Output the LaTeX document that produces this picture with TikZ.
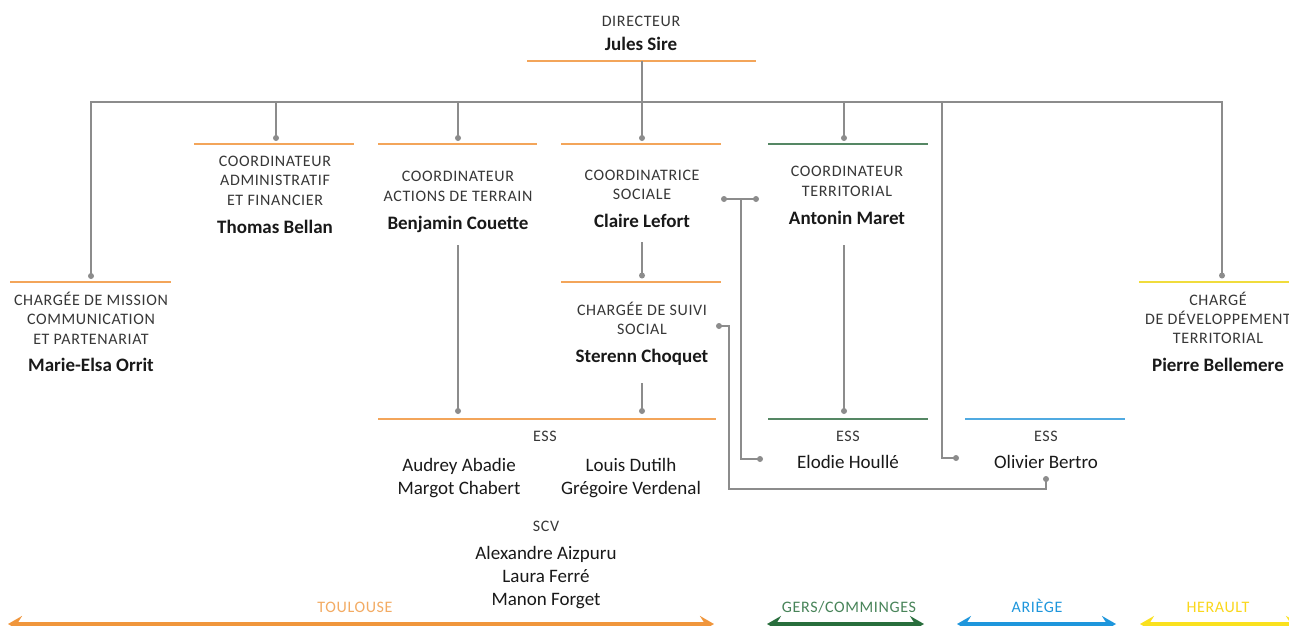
\documentclass[tikz,border=0pt]{standalone}
\usepackage{fontspec}
\setmainfont{Carlito}
\newfontfamily\capsfont[LetterSpace=4]{Carlito}
\usetikzlibrary{arrows.meta}
\definecolor{orangeL}{RGB}{243,165,90}
\definecolor{greenL}{RGB}{85,135,100}
\definecolor{blueL}{RGB}{80,170,225}
\definecolor{yellowL}{RGB}{240,220,60}
\definecolor{orangeA}{RGB}{240,150,60}
\definecolor{greenA}{RGB}{40,110,60}
\definecolor{blueA}{RGB}{30,150,220}
\definecolor{yellowA}{RGB}{250,225,30}
\definecolor{connG}{RGB}{140,140,140}
\definecolor{capG}{RGB}{55,55,55}
\definecolor{nameK}{RGB}{25,25,25}
\tikzset{
  captxt/.style={font=\capsfont\fontsize{16}{16}\selectfont, text=capG, anchor=base, inner sep=0pt},
  pname/.style={font=\bfseries\fontsize{19}{19}\selectfont, text=nameK, anchor=base, inner sep=0pt},
  rname/.style={font=\fontsize{19}{19}\selectfont, text=nameK, anchor=base, inner sep=0pt},
  headline/.style={line width=2pt},
  conn/.style={draw=connG, line width=1.5pt},
  dotfill/.style={fill=connG},
  regarrow/.style={line width=4pt, {Stealth[length=14pt,width=16pt,inset=5pt]}-{Stealth[length=14pt,width=16pt,inset=5pt]}},
  rlabel/.style={font=\capsfont\fontsize{16}{16}\selectfont, anchor=base, inner sep=0pt}
}
\begin{document}
\begin{tikzpicture}[x=1pt,y=-1pt]
\useasboundingbox (0,0) rectangle (1289,625);
\clip (0,0) rectangle (1289,625);
\fill[white] (0,0) rectangle (1289,625);

% ---------- Director
\node[captxt] (dirT) at (641,26.5) {DIRECTEUR};
\node[pname] (dirN) at (641,50) {Jules Sire};
\draw[headline, orangeL] (527,61) -- (756,61);
\coordinate (dirTop) at (642,61);

% ---------- Marie-Elsa
\draw[headline, orangeL] (10,282) -- (171,282);
\node[captxt] (meT1) at (91,305) {CHARGÉE DE MISSION};
\node[captxt] (meT2) at (91,324.5) {COMMUNICATION};
\node[captxt] (meT3) at (91,344) {ET PARTENARIAT};
\node[pname] (meN) at (91,371.5) {Marie-Elsa Orrit};
\coordinate (meDot) at (91,276);

% ---------- Thomas
\draw[headline, orangeL] (194,143.5) -- (354,143.5);
\node[captxt] (tbT1) at (275,166) {COORDINATEUR};
\node[captxt] (tbT2) at (275,185.5) {ADMINISTRATIF};
\node[captxt] (tbT3) at (275,205) {ET FINANCIER};
\node[pname] (tbN) at (275,233) {Thomas Bellan};
\coordinate (tbDot) at (276,138);

% ---------- Benjamin
\draw[headline, orangeL] (378,143.5) -- (537,143.5);
\node[captxt] (bcT1) at (458,181.5) {COORDINATEUR};
\node[captxt] (bcT2) at (458,201) {ACTIONS DE TERRAIN};
\node[pname] (bcN) at (458,229) {Benjamin Couette};
\coordinate (bcDot) at (458,138);
\coordinate (bcBot) at (458,245);

% ---------- Claire
\draw[headline, orangeL] (561,143.5) -- (721,143.5);
\node[captxt] (clT1) at (642,180) {COORDINATRICE};
\node[captxt] (clT2) at (642,199.5) {SOCIALE};
\node[pname] (clN) at (642,227) {Claire Lefort};
\coordinate (clDot) at (642,138);
\coordinate (clBot) at (642,242);
\coordinate (clR1) at (724,199);
\coordinate (clR2) at (756,199);
\coordinate (clJ) at (741,199);

% ---------- Sterenn
\draw[headline, orangeL] (561,281.5) -- (721,281.5);
\node[captxt] (scT1) at (642,315) {CHARGÉE DE SUIVI};
\node[captxt] (scT2) at (642,334) {SOCIAL};
\node[pname] (scN) at (642,362) {Sterenn Choquet};
\coordinate (scDot) at (642,275.5);
\coordinate (scBot) at (642,383);
\coordinate (scR) at (719,326);

% ---------- Antonin
\draw[headline, greenL] (768,143.5) -- (928,143.5);
\node[captxt] (amT1) at (847,176.5) {COORDINATEUR};
\node[captxt] (amT2) at (847,196) {TERRITORIAL};
\node[pname] (amN) at (847,224) {Antonin Maret};
\coordinate (amDot) at (844,138);
\coordinate (amBot) at (844,245);

% ---------- Pierre
\draw[headline, yellowL] (1139,281.5) -- (1295,281.5);
\node[captxt] (pbT1) at (1218,305) {CHARGÉ};
\node[captxt] (pbT2) at (1218,324.5) {DE DÉVELOPPEMENT};
\node[captxt] (pbT3) at (1218,343.5) {TERRITORIAL};
\node[pname] (pbN) at (1218,371.5) {Pierre Bellemere};
\coordinate (pbDot) at (1222,275.5);

% ---------- ESS Toulouse
\draw[headline, orangeL] (378,419) -- (716,419);
\node[captxt] (essT) at (545,441.5) {ESS};
\node[rname] (aa) at (459,471.5) {Audrey Abadie};
\node[rname] (mc) at (459,494.5) {Margot Chabert};
\node[rname] (ld) at (631,471.5) {Louis Dutilh};
\node[rname] (gv) at (631,494.5) {Grégoire Verdenal};
\node[captxt] (scvT) at (546,531.5) {SCV};
\node[rname] (aaz) at (546,559) {Alexandre Aizpuru};
\node[rname] (lf) at (546,582) {Laura Ferré};
\node[rname] (mf) at (546,605) {Manon Forget};
\coordinate (essBc) at (458,411);
\coordinate (essSc) at (642,411);

% ---------- ESS Gers
\draw[headline, greenL] (768,419) -- (928,419);
\node[captxt] (essG) at (848,441.5) {ESS};
\node[rname] (eh) at (848,468.5) {Elodie Houllé};
\coordinate (essAm) at (844,411);
\coordinate (ehDot) at (760,459);

% ---------- ESS Ariege
\draw[headline, blueL] (965,419) -- (1125,419);
\node[captxt] (essA) at (1046,441.5) {ESS};
\node[rname] (ob) at (1046,468.5) {Olivier Bertro};
\coordinate (obDotL) at (956,458);
\coordinate (obDotB) at (1046,479);

% ---------- bus and connectors
\coordinate (busL) at (91,102);
\coordinate (busR) at (1222,102);
\coordinate (busOb) at (942,102);
\draw[conn] (meDot) -- (busL) -- (busR) -- (pbDot);
\draw[conn] (dirTop) -- (clDot);
\draw[conn] (tbDot) -- (tbDot |- busL);
\draw[conn] (bcDot) -- (bcDot |- busL);
\draw[conn] (amDot) -- (amDot |- busL);
\draw[conn] (busOb) |- (obDotL);
\draw[conn] (bcBot) -- (essBc);
\draw[conn] (clBot) -- (scDot);
\draw[conn] (scBot) -- (essSc);
\draw[conn] (amBot) -- (essAm);
\draw[conn] (clR1) -- (clR2);
\draw[conn] (clJ) |- (ehDot);
\draw[conn] (scR) -- (729,326) -- (729,489) -| (obDotB);

\foreach \p in {meDot,tbDot,bcDot,clDot,amDot,pbDot,scDot,essBc,essSc,essAm,clR1,clR2,ehDot,obDotL,obDotB,scR}
  \fill[dotfill] (\p) circle (3);

% ---------- regions
\node[rlabel, text=orangeA!80] (lT) at (355,612) {TOULOUSE};
\node[rlabel, text=greenA!85] (lG) at (849,612) {GERS/COMMINGES};
\node[rlabel, text=blueA] (lA) at (1037,612) {ARIÈGE};
\node[rlabel, text=yellowA!90!orange] (lH) at (1218,612) {HERAULT};
\draw[regarrow, orangeA] (8,624) -- (714,624);
\draw[regarrow, greenA] (767,624) -- (924,624);
\draw[regarrow, blueA] (957,624) -- (1116,624);
\draw[regarrow, yellowA] (1140,624) -- (1300,624);
\end{tikzpicture}
\end{document}
